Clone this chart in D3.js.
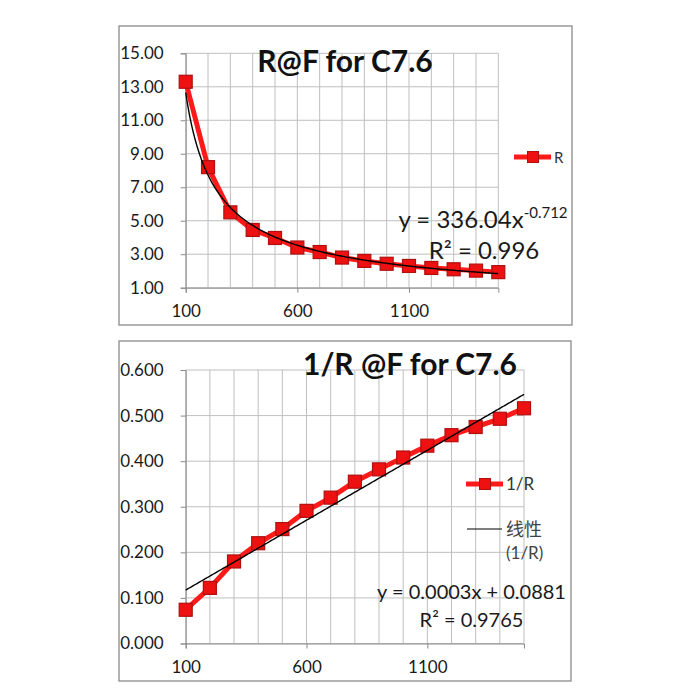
<!DOCTYPE html>
<html>
<head>
<meta charset="utf-8">
<script src="https://cdn.jsdelivr.net/npm/d3@7"></script>
<style>
  body { margin: 0; background: #fff; }
  svg text { font-family: Lato, "Noto Sans", sans-serif; }
</style>
</head>
<body>
<div id="chart"></div>
<script>
// frequencies (x categories)
const freqs = [100, 200, 300, 400, 500, 600, 700, 800, 900, 1000, 1100, 1200, 1300, 1400, 1500];
const xTickLabels = [100, 600, 1100];

// R values
const rValues = [13.3, 8.2, 5.5, 4.45, 3.97, 3.4, 3.13, 2.8, 2.6, 2.43, 2.3, 2.18, 2.1, 2.02, 1.93];
// 1/R values
const invRValues = [0.074, 0.122, 0.180, 0.220, 0.251, 0.291, 0.320, 0.355, 0.382, 0.408, 0.434, 0.457, 0.475, 0.493, 0.516];

const rTicks = [1, 3, 5, 7, 9, 11, 13, 15];
const invRTicks = [0, 0.1, 0.2, 0.3, 0.4, 0.5, 0.6];

// power trendline as printed on the chart
const powerCoef = 336.04;
const powerExp = -0.712;

const RED = '#ff1a1a';
const DARK_RED = '#b01010';
const GRID = '#bfbfbf';
const AXIS = '#8a8a8a';

const svg = d3.select('#chart').append('svg')
    .attr('width', 700)
    .attr('height', 700);

function drawPanel(opts) {
    const g = svg.append('g');

    // outer chart box
    g.append('rect')
        .attr('x', opts.box[0]).attr('y', opts.box[1])
        .attr('width', opts.box[2]).attr('height', opts.box[3])
        .attr('fill', '#fff')
        .attr('stroke', AXIS)
        .attr('stroke-width', 1.3);

    const x = d3.scaleLinear().domain([100, 1500]).range(opts.xRange);
    const y = d3.scaleLinear().domain(d3.extent(opts.yTicks)).range(opts.yRange);

    // gridlines
    g.append('g').selectAll('line')
        .data(freqs)
        .join('line')
        .attr('x1', d => x(d)).attr('x2', d => x(d))
        .attr('y1', y.range()[0]).attr('y2', y.range()[1])
        .attr('stroke', GRID);
    g.append('g').selectAll('line')
        .data(opts.yTicks)
        .join('line')
        .attr('x1', x.range()[0]).attr('x2', x.range()[1])
        .attr('y1', d => y(d)).attr('y2', d => y(d))
        .attr('stroke', GRID);

    // axes
    const yAxis = g.append('g')
        .attr('transform', `translate(${x.range()[0]},0)`)
        .call(d3.axisLeft(y).tickValues(opts.yTicks).tickSize(5).tickPadding(17)
            .tickFormat(d => d.toFixed(opts.decimals)));
    const xAxis = g.append('g')
        .attr('transform', `translate(0,${y.range()[0]})`)
        .call(d3.axisBottom(x).tickValues(xTickLabels).tickSize(5).tickPadding(12)
            .tickFormat(d3.format('d')));
    [yAxis, xAxis].forEach(a => {
        a.select('.domain').attr('stroke', AXIS);
        a.selectAll('.tick line').attr('stroke', AXIS);
        a.selectAll('.tick text')
            .attr('fill', '#1a1a1a')
            .style('font-size', '17px');
    });

    // series line + markers
    const pts = freqs.map((f, i) => [f, opts.values[i]]);
    g.append('path')
        .datum(pts)
        .attr('fill', 'none')
        .attr('stroke', RED)
        .attr('stroke-width', 5)
        .attr('stroke-linejoin', 'round')
        .attr('d', d3.line().x(d => x(d[0])).y(d => y(d[1])));
    g.append('g').selectAll('rect')
        .data(pts)
        .join('rect')
        .attr('x', d => x(d[0]) - 6.5)
        .attr('y', d => y(d[1]) - 6.5)
        .attr('width', 13).attr('height', 13)
        .attr('fill', '#ee1111')
        .attr('stroke', DARK_RED)
        .attr('stroke-width', 1.2);

    // trendline on top
    const trendPts = d3.range(100, 1501, 5).map(f => [f, opts.trend(f)]);
    g.append('path')
        .datum(trendPts)
        .attr('fill', 'none')
        .attr('stroke', '#000')
        .attr('stroke-width', 1.4)
        .attr('d', d3.line().x(d => x(d[0])).y(d => y(d[1])));

    // title
    g.append('text')
        .attr('x', opts.title[1]).attr('y', opts.title[2])
        .attr('text-anchor', 'middle')
        .style('font-size', '30px')
        .style('font-weight', 'bold')
        .attr('fill', '#111')
        .text(opts.title[0]);

    // legend entry for the series
    const lg = g.append('g').attr('transform', `translate(${opts.legend[0]},${opts.legend[1]})`);
    lg.append('line').attr('x1', 0).attr('x2', 37).attr('y1', 0).attr('y2', 0)
        .attr('stroke', RED).attr('stroke-width', 5);
    lg.append('rect').attr('x', 13.5).attr('y', -5.5).attr('width', 11).attr('height', 11)
        .attr('fill', '#ee1111').attr('stroke', DARK_RED).attr('stroke-width', 1);
    lg.append('text').attr('x', 40).attr('y', 5.5)
        .style('font-size', opts.legendSize + 'px')
        .attr('fill', '#333')
        .text(opts.seriesName);

    return { g, x, y };
}

// top panel: R
const topPanel = drawPanel({
    box: [119, 26, 453, 299],
    xRange: [185.7, 498.3],
    yRange: [287.7, 53.3],
    yTicks: rTicks,
    decimals: 2,
    values: rValues,
    trend: f => powerCoef * Math.pow(f, powerExp),
    title: ['R@F for C7.6', 345, 72],
    legend: [514, 157],
    legendSize: 15,
    seriesName: 'R'
});

const eq1 = topPanel.g.append('text')
    .attr('x', 483).attr('y', 228)
    .attr('text-anchor', 'middle')
    .style('font-size', '24px')
    .attr('fill', '#1a1a1a');
eq1.append('tspan').text('y = 336.04x');
eq1.append('tspan').attr('dy', -10).style('font-size', '15px').text('-0.712');
topPanel.g.append('text')
    .attr('x', 484).attr('y', 259)
    .attr('text-anchor', 'middle')
    .style('font-size', '24px')
    .attr('fill', '#1a1a1a')
    .text('R² = 0.996');

// linear least-squares fit of 1/R (Excel's linear trendline)
const xMean = d3.mean(freqs);
const yMean = d3.mean(invRValues);
const slope = d3.sum(freqs, (f, i) => (f - xMean) * (invRValues[i] - yMean)) /
    d3.sum(freqs, f => (f - xMean) ** 2);
const intercept = yMean - slope * xMean;

// bottom panel: 1/R
const bottomPanel = drawPanel({
    box: [119, 341, 452, 340],
    xRange: [185.7, 524],
    yRange: [643.5, 370],
    yTicks: invRTicks,
    decimals: 3,
    values: invRValues,
    trend: f => slope * f + intercept,
    title: ['1/R @F for C7.6', 410, 375],
    legend: [466, 484],
    legendSize: 17,
    seriesName: '1/R'
});

const lin = bottomPanel.g.append('g').attr('transform', 'translate(467,529)');
lin.append('line').attr('x1', 0).attr('x2', 35).attr('y1', 0).attr('y2', 0)
    .attr('stroke', '#000').attr('stroke-width', 1.2);
lin.append('text').attr('x', 39).attr('y', 6.5)
    .style('font-size', '18px')
    .style('font-family', '"Noto Sans CJK SC", sans-serif')
    .attr('fill', '#444')
    .text('线性');
lin.append('text').attr('x', 39).attr('y', 30)
    .style('font-size', '17px')
    .attr('fill', '#444')
    .text('(1/R)');

bottomPanel.g.append('text')
    .attr('x', 471.5).attr('y', 599)
    .attr('text-anchor', 'middle')
    .style('font-size', '20px')
    .attr('fill', '#1a1a1a')
    .text('y = 0.0003x + 0.0881');
bottomPanel.g.append('text')
    .attr('x', 471.5).attr('y', 627)
    .attr('text-anchor', 'middle')
    .style('font-size', '20px')
    .attr('fill', '#1a1a1a')
    .text('R² = 0.9765');
</script>
</body>
</html>
